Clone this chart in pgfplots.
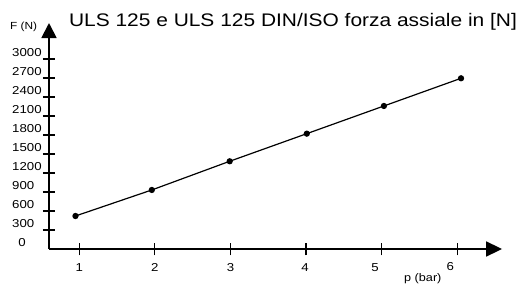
\documentclass[border=0pt]{standalone}
\usepackage{pgfplots}
\pgfplotsset{compat=1.18}
\usepackage{fontspec}
\setmainfont[FakeStretch=1.15]{Liberation Sans}
\usetikzlibrary{arrows.meta}
\begin{document}
\begin{tikzpicture}[x=1pt,y=1pt]
\useasboundingbox (0,0) rectangle (523,-289);
\begin{axis}[
  at={(49pt,-249pt)}, anchor=south west,
  x=75.6pt, y=0.0633333pt,
  xmin=0.6, xmax=6.593, ymin=0, ymax=3568,
  axis lines=left,
  axis line style={line width=1.8pt},
  x axis line style={-{Triangle[length=16pt,width=15pt]}},
  y axis line style={-{Triangle[length=15pt,width=15pt]}},
  clip=false,
  tick align=center,
  major tick style={line width=1.3pt, black},
  major tick length=12.5pt,
  xtick={1,2,3,4,5,6},
  xticklabels={1,2,3,{\makebox[0pt]{\kern-2pt 4}},{\makebox[0pt]{\kern-13pt 5}},{\makebox[0pt]{\kern-14pt\raisebox{1.5pt}{6}}}},
  x tick label style={anchor=base, inner sep=0pt, yshift=-16.25pt, font=\fontsize{11.5}{12}\selectfont},
  ytick={300,600,...,3000},
  extra y ticks={0},
  extra y tick style={major tick length=0pt},
  /pgf/number format/assume math mode=true,
  /pgf/number format/1000 sep={},
  y tick label style={anchor=base west, inner sep=0pt, xshift=-30.75pt, yshift=2.5pt, font=\fontsize{11.5}{12}\selectfont},
]
\addplot[black, line width=1.2pt, mark=*, mark size=2.5pt] coordinates {
  (0.95,521) (1.96,932) (2.99,1385) (4.01,1821) (5.03,2258) (6.05,2695)
};
\end{axis}
\node[anchor=base, inner sep=0pt, font=\fontsize{18.2}{20}\selectfont] at (293,-26.7) {ULS 125 e ULS 125 DIN/ISO forza assiale in [N]};
\node[anchor=base west, inner sep=0pt, font=\fontsize{10.3}{12}\selectfont] at (10,-30) {F (N)};
\node[anchor=base west, inner sep=0pt, font=\fontsize{11}{12}\selectfont] at (404,-281) {p (bar)};
\end{tikzpicture}
\end{document}
